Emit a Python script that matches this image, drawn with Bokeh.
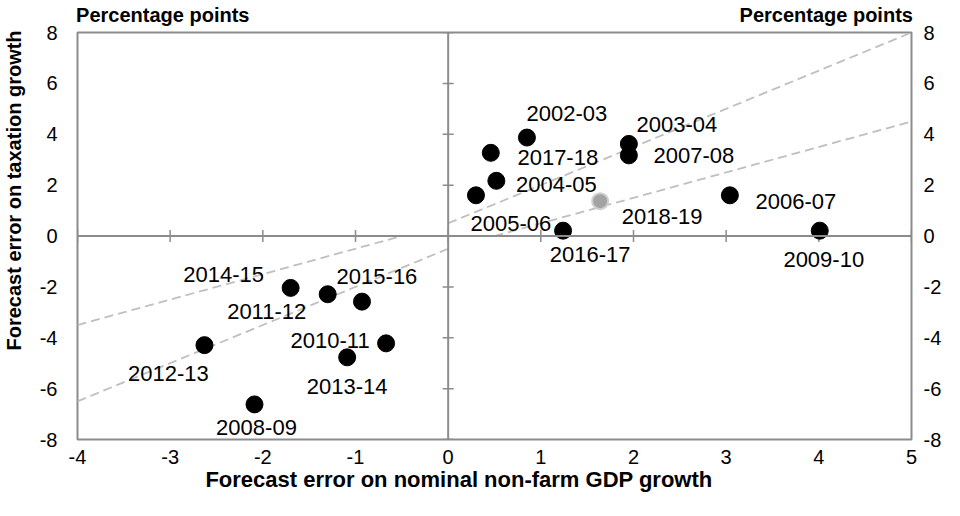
import math
from bokeh.plotting import figure
from bokeh.models import LinearAxis, FixedTicker, Span, ColumnDataSource
from bokeh.core.properties import value
from bokeh.embed import file_html
from bokeh.resources import INLINE

# ---- data ----
years = ["2002-03", "2003-04", "2004-05", "2005-06", "2006-07", "2007-08", "2008-09",
         "2009-10", "2010-11", "2011-12", "2012-13", "2013-14", "2014-15", "2015-16",
         "2016-17", "2017-18"]
gdp_err = [0.85, 1.95, 0.52, 0.30, 3.04, 1.95, -2.09, 4.01, -0.67, -1.30, -2.63, -1.09,
           -1.70, -0.93, 1.24, 0.46]
tax_err = [3.87, 3.62, 2.17, 1.60, 1.60, 3.17, -6.62, 0.21, -4.22, -2.29, -4.29, -4.77,
           -2.04, -2.58, 0.21, 3.27]

est_years = ["2018-19"]
est_gdp_err = [1.64]
est_tax_err = [1.37]

# reference lines (end points)
line_a_x = [0, 5]
line_a_y = [0.5, 8.0]
line_b_x = [-4, 0]
line_b_y = [-6.5, -0.5]
line_c_x = [-4, -0.5]
line_c_y = [-3.5, 0.0]
line_d_x = [0.5, 5]
line_d_y = [0.0, 4.5]

x_ticks = [-4, -3, -2, -1, 0, 1, 2, 3, 4, 5]
y_ticks = [-8, -6, -4, -2, 0, 2, 4, 6, 8]
header_text = "Percentage points"
x_title = "Forecast error on nominal non-farm GDP  growth"
y_title = "Forecast  error on taxation growth"

# label placement (pixels, centre of text relative to the point; +dy = down)
lab_dx = [40, 48, 60, 35, 66, 65, 2, 4, -56, -61, -36, 0, -67, 15, 27, 67]
lab_dy = [-24, -19, 4, 28, 6, 0, 23, 29, -3, 17, 28, 29, -13, -25, 24, 5]
est_dx = [62]
est_dy = [15]

# where the header / title texts sit (centre of each text, in axis units)
header_pos = [-3.08, 4.08]
x_title_pos = [0.15]
y_title_pos = [1.9]

FONT = "Liberation Sans"
GREY = "#8c8c8c"

p = figure(width=944, height=500, x_range=(-4, 5), y_range=(-8, 8),
           output_backend="svg", toolbar_location=None,
           x_axis_location=None, y_axis_location=None,
           min_border_left=69, min_border_right=28, min_border_top=25, min_border_bottom=61,
           background_fill_color="white", border_fill_color="white")
p.grid.visible = False
p.outline_line_color = GREY
p.outline_line_width = 2


def make_axis(ticks, standoff, size="20px", labels=None, bold=False):
    ax = LinearAxis()
    ax.ticker = FixedTicker(ticks=ticks)
    if labels is None:
        ax.major_label_overrides = {t: str(t) for t in ticks}
    else:
        ax.major_label_overrides = {t: labels for t in ticks}
    ax.axis_line_color = None
    ax.major_tick_in = 0
    ax.major_tick_out = 0
    ax.minor_tick_in = 0
    ax.minor_tick_out = 0
    ax.major_label_text_font = FONT
    ax.major_label_text_font_size = size
    ax.major_label_text_color = "black"
    ax.major_label_standoff = standoff
    if bold:
        ax.major_label_text_font_style = "bold"
    return ax


# tick-label axes
p.add_layout(make_axis(x_ticks, 10), "below")
p.add_layout(make_axis(y_ticks, 20), "left")
p.add_layout(make_axis(y_ticks, 12), "right")

# header texts above the plot ("Percentage points" at both ends)
p.add_layout(make_axis(header_pos, 7, size="20px", labels=header_text, bold=True), "above")

# axis titles
p.add_layout(make_axis(x_title_pos, 0, size="22px", labels=x_title, bold=True), "below")
yt = make_axis(y_title_pos, 11, size="20px", labels=y_title, bold=True)
yt.major_label_orientation = "vertical"
p.add_layout(yt, "left")

# zero lines
p.add_layout(Span(location=0, dimension="height", line_color=GREY, line_width=2))
p.add_layout(Span(location=0, dimension="width", line_color=GREY, line_width=2))

# tick marks on the zero lines
p.scatter(x=x_ticks, y=[0] * len(x_ticks), marker="dash", angle=math.pi / 2, size=12,
          line_color=GREY, line_width=1.5)
p.scatter(x=[0] * len(y_ticks), y=y_ticks, marker="dash", size=11,
          line_color=GREY, line_width=1.5)

# dashed reference lines
for lx, ly in [(line_a_x, line_a_y), (line_b_x, line_b_y),
               (line_c_x, line_c_y), (line_d_x, line_d_y)]:
    p.line(lx, ly, line_color="#bfbfbf", line_width=1.8, line_dash="9 5")

src = ColumnDataSource(dict(x=gdp_err, y=tax_err, t=years, dx=lab_dx, dy=lab_dy))
est = ColumnDataSource(dict(x=est_gdp_err, y=est_tax_err, t=est_years, dx=est_dx, dy=est_dy))

p.scatter("x", "y", source=src, size=17, fill_color="black", line_color="black")
p.scatter("x", "y", source=est, size=16, fill_color="#a3a3a3", line_color="#cfcfcf",
          line_width=2)

for s in (src, est):
    p.text("x", "y", text="t", source=s, x_offset="dx", y_offset="dy",
           text_align="center", text_baseline="middle",
           text_font=value(FONT), text_font_size="22px", text_color="black")

open("out.html", "w").write(file_html(p, INLINE))
